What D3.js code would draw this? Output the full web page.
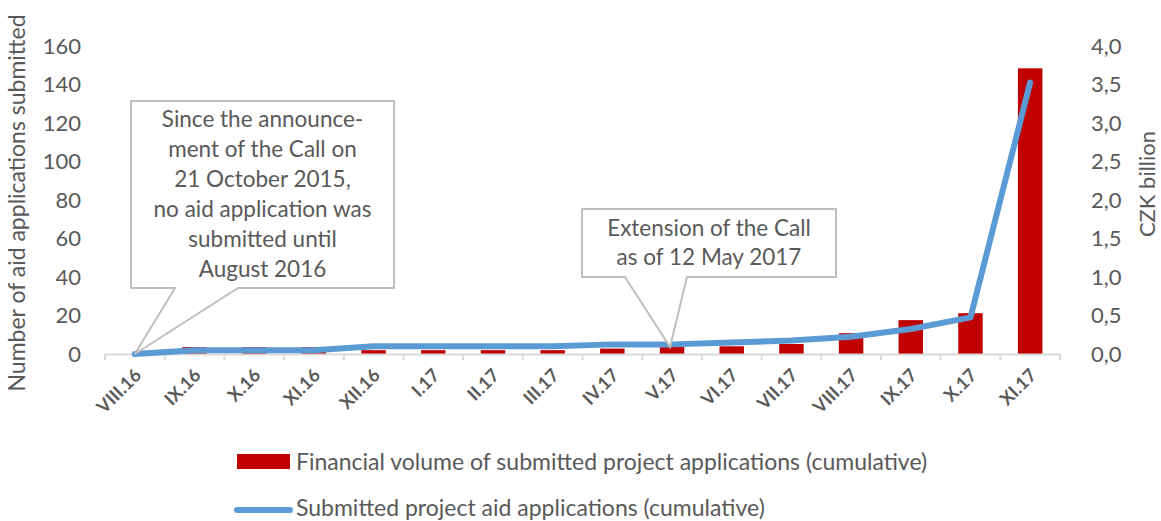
<!DOCTYPE html>
<html>
<head>
<meta charset="utf-8">
<script src="https://cdn.jsdelivr.net/npm/d3@7"></script>
<style>
  body { margin: 0; background: #fff; }
  svg { display: block; font-family: Lato, "Open Sans", sans-serif; }
  text { fill: #595959; }
</style>
</head>
<body>
<div id="chart"></div>
<script>
// months on the x axis
var months = ["VIII.16", "IX.16", "X.16", "XI.16", "XII.16", "I.17", "II.17", "III.17",
  "IV.17", "V.17", "VI.17", "VII.17", "VIII.17", "IX.17", "X.17", "XI.17"];

// financial volume, CZK billion (cumulative) - right axis
var volume = [0, 0.09, 0.09, 0.09, 0.05, 0.05, 0.05, 0.05,
  0.07, 0.09, 0.10, 0.13, 0.27, 0.44, 0.53, 3.71];

// number of submitted applications (cumulative) - left axis
var applications = [0, 2, 2, 2, 4, 4, 4, 4, 5, 5, 6, 7, 9, 13, 19, 141];

var leftTicks = [0, 20, 40, 60, 80, 100, 120, 140, 160];
var rightTicks = [0, 0.5, 1, 1.5, 2, 2.5, 3, 3.5, 4];

var w = 1161,
  h = 521;

var svg = d3.select("#chart")
  .append("svg")
  .attr("width", w)
  .attr("height", h);

var x = d3.scaleBand()
  .domain(months)
  .range([105, 1060])
  .paddingInner(0.59)
  .paddingOuter(0.295);

var yL = d3.scaleLinear().domain([0, 160]).range([354, 46]);
var yR = d3.scaleLinear().domain([0, 4]).range([354, 46]);

var czFormat = d3.formatLocale({ decimal: ",", thousands: " ", grouping: [3], currency: ["", ""] }).format(".1f");

function cx(m) {
  return x(m) + x.bandwidth() / 2;
}

// bars
svg.append("g")
  .selectAll("rect")
  .data(months)
  .enter()
  .append("rect")
  .attr("x", d => x(d))
  .attr("width", x.bandwidth())
  .attr("y", (d, i) => yR(volume[i]))
  .attr("height", (d, i) => yR(0) - yR(volume[i]))
  .attr("fill", "#c00000");

// x axis line + ticks between categories
var step = x.step();
svg.append("line")
  .attr("x1", 105).attr("x2", 1060)
  .attr("y1", yL(0) + 0.5).attr("y2", yL(0) + 0.5)
  .attr("stroke", "#d9d9d9").attr("stroke-width", 2);

svg.append("g")
  .selectAll("line")
  .data(d3.range(months.length + 1))
  .enter()
  .append("line")
  .attr("x1", i => 105 + i * step)
  .attr("x2", i => 105 + i * step)
  .attr("y1", yL(0))
  .attr("y2", yL(0) + 6)
  .attr("stroke", "#d9d9d9").attr("stroke-width", 2);

svg.append("g")
  .selectAll("text")
  .data(months)
  .enter()
  .append("text")
  .attr("transform", d => "translate(" + (cx(d) + 3) + "," + (yL(0) + 18) + ") rotate(-45)")
  .attr("text-anchor", "end")
  .attr("dy", "0.35em")
  .style("font-size", "18px")
  .style("font-weight", "bold")
  .text(d => d);

// left axis
var gl = svg.append("g")
  .attr("transform", "translate(81,0)")
  .call(d3.axisLeft(yL).tickValues(leftTicks).tickSize(0).tickPadding(0));
gl.select(".domain").remove();
gl.selectAll("text").style("font-size", "22px").style("font-family", "Lato, sans-serif").attr("fill", "#595959");

// right axis
var gr = svg.append("g")
  .attr("transform", "translate(1091,0)")
  .call(d3.axisRight(yR).tickValues(rightTicks).tickSize(0).tickPadding(0).tickFormat(czFormat));
gr.select(".domain").remove();
gr.selectAll("text").style("font-size", "22px").style("font-family", "Lato, sans-serif").attr("fill", "#595959");

// axis titles
svg.append("text")
  .attr("transform", "translate(17,203) rotate(-90)")
  .attr("text-anchor", "middle")
  .attr("dy", "0.35em")
  .style("font-size", "23px")
  .text("Number of aid applications submitted");

svg.append("text")
  .attr("transform", "translate(1147,184) rotate(-90)")
  .attr("text-anchor", "middle")
  .attr("dy", "0.35em")
  .style("font-size", "22px")
  .text("CZK billion");

// line
var line = d3.line()
  .x(d => cx(d))
  .y((d, i) => yL(applications[i]));

svg.append("path")
  .datum(months)
  .attr("d", line)
  .attr("fill", "none")
  .attr("stroke", "#5b9bd5")
  .attr("stroke-width", 6)
  .attr("stroke-linejoin", "round")
  .attr("stroke-linecap", "round");

// callouts
function callout(box, base, tip, lines, lineH) {
  var p = "M" + box[0] + "," + box[1] +
    "H" + box[2] + "V" + box[3] +
    "H" + base[1] + "L" + tip[0] + "," + tip[1] +
    "L" + base[0] + "," + box[3] + "H" + box[0] + "Z";
  svg.append("path")
    .attr("d", p)
    .attr("fill", "#fff")
    .attr("stroke", "#bfbfbf")
    .attr("stroke-width", 2);
  var mid = (box[0] + box[2]) / 2;
  var top = (box[1] + box[3]) / 2 - (lines.length - 1) * lineH / 2;
  svg.append("g")
    .selectAll("text")
    .data(lines)
    .enter()
    .append("text")
    .attr("x", mid)
    .attr("y", (d, i) => top + i * lineH)
    .attr("dy", "0.35em")
    .attr("text-anchor", "middle")
    .style("font-size", "22.5px")
    .text(d => d);
}

callout([131, 101, 394, 288], [175, 238], [cx("VIII.16"), yL(0)],
  ["Since the announce-", "ment of the Call on", "21 October 2015,",
    "no aid application was", "submitted until", "August 2016"], 30);

callout([582, 209, 836, 277], [625, 687], [cx("V.17") - 2, yR(volume[9])],
  ["Extension of the Call", "as of 12 May 2017"], 29);

// legend
svg.append("rect")
  .attr("x", 237).attr("y", 454)
  .attr("width", 53).attr("height", 15)
  .attr("fill", "#c00000");
svg.append("text")
  .attr("x", 296).attr("y", 462)
  .attr("dy", "0.35em")
  .style("font-size", "23px")
  .text("Financial volume of submitted project applications (cumulative)");

svg.append("line")
  .attr("x1", 237).attr("x2", 290)
  .attr("y1", 510).attr("y2", 510)
  .attr("stroke", "#5b9bd5")
  .attr("stroke-width", 6)
  .attr("stroke-linecap", "round");
svg.append("text")
  .attr("x", 296).attr("y", 508)
  .attr("dy", "0.35em")
  .style("font-size", "23px")
  .text("Submitted project aid applications (cumulative)");
</script>
</body>
</html>
